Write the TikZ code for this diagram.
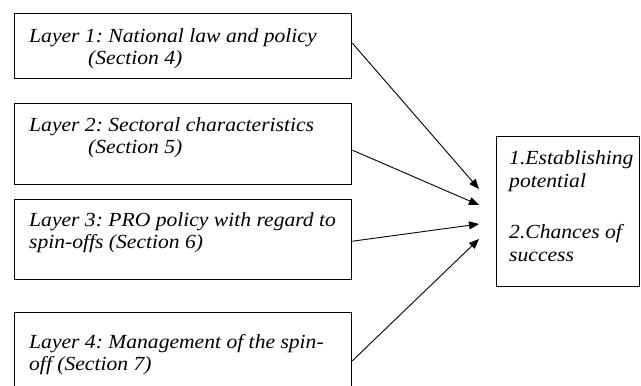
\documentclass[tikz,border=0pt]{standalone}
\usepackage{fontspec}
\setmainfont{Liberation Serif}[FakeStretch=1.08]
\usetikzlibrary{arrows.meta}
\begin{document}
\frenchspacing
\begin{tikzpicture}[x=1bp,y=-1bp,
  layerbox/.style={draw=black,line width=1.4bp,fill=none},
  txt/.style={anchor=base west,inner sep=0pt,font=\fontsize{20bp}{24bp}\selectfont\itshape},
  arr/.style={draw=black,line width=0.9bp,-{Triangle[length=10bp,width=8bp]}}]
\useasboundingbox (0,0) rectangle (641,385);
% boxes
\node[layerbox,minimum width=337bp,minimum height=65bp,anchor=north west,inner sep=0pt] (b1) at (14,13) {};
\node[layerbox,minimum width=337bp,minimum height=81bp,anchor=north west,inner sep=0pt] (b2) at (14,103) {};
\node[layerbox,minimum width=337bp,minimum height=80bp,anchor=north west,inner sep=0pt] (b3) at (14,199) {};
\node[layerbox,minimum width=337bp,minimum height=96bp,anchor=north west,inner sep=0pt] (b4) at (14,312) {};
\node[layerbox,minimum width=143bp,minimum height=150bp,anchor=north west,inner sep=0pt] (res) at (496,136) {};
% texts
\node[txt] (l1a) at (29,42) {Layer 1: National law and policy};
\node[txt] (l1b) at (88,64) {(Section 4)};
\node[txt] (l2a) at (29,131) {Layer 2: Sectoral characteristics};
\node[txt] (l2b) at (88,153) {(Section 5)};
\node[txt] (l3a) at (29,226) {Layer 3: PRO policy with regard to};
\node[txt] (l3b) at (29,248) {spin-offs (Section 6)};
\node[txt] (l4a) at (29,348) {Layer 4: Management of the spin-};
\node[txt] (l4b) at (29,370) {off (Section 7)};
\node[txt] (r1) at (509,164) {1.Establishing};
\node[txt] (r2) at (509,187) {potential};
\node[txt] (r3) at (509,238) {2.Chances of};
\node[txt] (r4) at (509,261) {success};
% arrow tips
\coordinate (t1) at (479,189);
\coordinate (t2) at (479,205);
\coordinate (t3) at (479,224);
\coordinate (t4) at (479,239);
\coordinate (s1) at (b1.east);
\coordinate (s2) at ([yshift=-6bp]b2.east);
\coordinate (s3) at (b3.east);
\coordinate (s4) at (b4.east);
\draw[arr] ([yshift=3bp]s1) -- (t1);
\draw[arr] (s2) -- (t2);
\draw[arr] ([yshift=-1.5bp]s3) -- (t3);
\draw[arr] (s4) -- (t4);
\end{tikzpicture}
\end{document}
